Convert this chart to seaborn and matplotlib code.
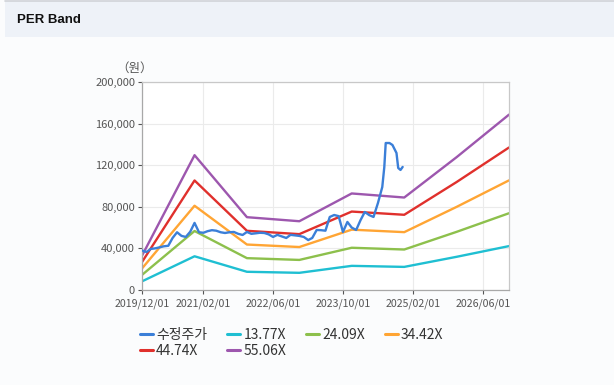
import pandas as pd
import matplotlib
matplotlib.use("Agg")
import matplotlib.pyplot as plt
import matplotlib.dates as mdates
from matplotlib.ticker import FuncFormatter
from matplotlib.lines import Line2D
import seaborn as sns

# price series (수정주가)
price_dates = [
    "2019-12-01", "2020-01-01", "2020-02-01", "2020-03-01", "2020-04-01", "2020-05-01",
    "2020-06-01", "2020-07-01", "2020-08-01", "2020-09-01", "2020-10-01", "2020-11-01",
    "2020-12-01", "2021-01-01", "2021-02-01", "2021-03-01", "2021-04-01", "2021-05-01",
    "2021-06-01", "2021-07-01", "2021-08-01", "2021-09-01", "2021-10-01", "2021-11-01",
    "2021-12-01", "2022-01-01", "2022-02-01", "2022-03-01", "2022-04-01", "2022-05-01",
    "2022-06-01", "2022-07-01", "2022-08-01", "2022-09-01", "2022-10-01", "2022-11-01",
    "2022-12-01", "2023-01-01", "2023-02-01", "2023-03-01", "2023-04-01", "2023-05-01",
    "2023-06-01", "2023-07-01", "2023-08-01", "2023-09-01", "2023-10-01", "2023-11-01",
    "2023-12-01", "2024-01-01", "2024-02-01", "2024-03-01", "2024-04-01", "2024-05-01",
    "2024-06-01", "2024-07-01", "2024-07-15", "2024-07-25", "2024-08-20", "2024-09-10",
    "2024-10-08", "2024-10-20", "2024-11-05", "2024-11-20",
]
price_values = [
    38000, 36500, 39500, 40000, 41000, 42000,
    42500, 50000, 55500, 52000, 51000, 56000,
    64500, 55500, 55000, 56500, 57500, 57000,
    55500, 54800, 55500, 55800, 54000, 52900,
    55800, 54000, 54500, 55000, 54800, 53500,
    51000, 53000, 51500, 50000, 53000, 52500,
    52000, 51000, 48000, 50000, 57700, 57500,
    57000, 70200, 72100, 71000, 55800, 65400,
    60000, 57700, 67300, 75000, 72000, 70200,
    83700, 99000, 118000, 141300, 141300, 139400,
    131700, 117300, 115400, 118300,
]

# PER band lines
band_dates = ["2019-12-01", "2020-12-01", "2021-12-01", "2022-12-01",
              "2023-12-01", "2024-12-01", "2025-12-01", "2026-12-01"]
band_1377 = [8300, 32400, 17500, 16500, 23200, 22200, 31900, 42200]
band_2409 = [14500, 56700, 30600, 28900, 40600, 38900, 55900, 73800]
band_3442 = [20700, 81000, 43700, 41300, 58000, 55600, 79900, 105400]
band_4474 = [26900, 105300, 56900, 53700, 75400, 72300, 103800, 137000]
band_5506 = [33000, 129600, 70000, 66100, 92800, 88900, 127700, 168600]

band_labels = ["13.77X", "24.09X", "34.42X", "44.74X", "55.06X"]
band_colors = ["#1fbfd2", "#8dc04c", "#ffa534", "#e0302c", "#9d57ae"]
price_color = "#3b7fd8"

bands = pd.DataFrame({
    "date": pd.to_datetime(band_dates * 5),
    "value": band_1377 + band_2409 + band_3442 + band_4474 + band_5506,
    "band": sum([[lab] * len(band_dates) for lab in band_labels], []),
})
price = pd.DataFrame({"date": pd.to_datetime(price_dates), "value": price_values})

sns.set_theme(style="white")
plt.rcParams['font.family'] = ['Noto Sans CJK KR', 'DejaVu Sans']

fig = plt.figure(figsize=(6.14, 3.85), dpi=100)
fig.patch.set_facecolor("#fbfcfd")

# header strip
fig.add_artist(plt.Rectangle((0.008, 0.904), 0.992, 0.094, transform=fig.transFigure,
                             facecolor="#eef2f8", edgecolor="none", zorder=0))
fig.add_artist(Line2D([0.008, 1], [0.997, 0.997], transform=fig.transFigure,
                      color="#d0d3d8", lw=1.2))
fig.text(0.027, 0.948, "PER Band", fontsize=9.5, fontweight="bold", color="#111111",
         va="center", ha="left", family=["Liberation Sans", "DejaVu Sans"])

ax = fig.add_axes([0.2313, 0.2468, 0.5977, 0.5403])
ax.set_facecolor("white")

sns.lineplot(data=bands, x="date", y="value", hue="band", palette=band_colors,
             hue_order=band_labels, linewidth=1.7, ax=ax, legend=False)
sns.lineplot(data=price, x="date", y="value", color=price_color, linewidth=1.7,
             ax=ax, legend=False, zorder=5)

ax.set_xlim(pd.Timestamp("2019-12-01"), pd.Timestamp("2026-12-01"))
ax.set_ylim(0, 200000)
xticks = pd.to_datetime(["2019-12-01", "2021-02-01", "2022-06-01",
                         "2023-10-01", "2025-02-01", "2026-06-01"])
ax.set_xticks(xticks)
ax.xaxis.set_major_formatter(mdates.DateFormatter("%Y/%m/%d"))
ax.set_yticks(range(0, 200001, 40000))
ax.yaxis.set_major_formatter(FuncFormatter(lambda v, p: f"{int(v):,}"))
ax.tick_params(axis="y", labelsize=8, colors="#555555", length=3, width=0.8,
               pad=2, direction="out", left=True)
ax.tick_params(axis="x", labelsize=7.6, colors="#555555", length=3, width=0.8,
               pad=3, direction="out", bottom=True)
ax.grid(True, color="#ebebeb", linewidth=0.8)
for side in ["top", "right"]:
    ax.spines[side].set_color("#c8c8c8")
for side in ["left", "bottom"]:
    ax.spines[side].set_color("#a8a8a8")
for s in ax.spines.values():
    s.set_linewidth(0.9)
ax.set_xlabel("")
ax.set_ylabel("")
fig.text(0.219, 0.823, "（원）", fontsize=9, color="#555555", ha="center", va="center")

handles = [Line2D([], [], color=price_color, lw=2.2)] + \
          [Line2D([], [], color=c, lw=2.2) for c in band_colors]
labels = ["수정주가"] + band_labels
order = [0, 4, 1, 5, 2, 3]
fig.legend([handles[i] for i in order], [labels[i] for i in order],
           ncol=4, loc="upper left", bbox_to_anchor=(0.217, 0.166), frameon=False,
           fontsize=10, handlelength=0.9, handletextpad=0.25, columnspacing=1.45,
           labelspacing=0.15, borderpad=0, labelcolor="#333333")

fig.savefig("out.png", dpi=100, facecolor=fig.get_facecolor())
